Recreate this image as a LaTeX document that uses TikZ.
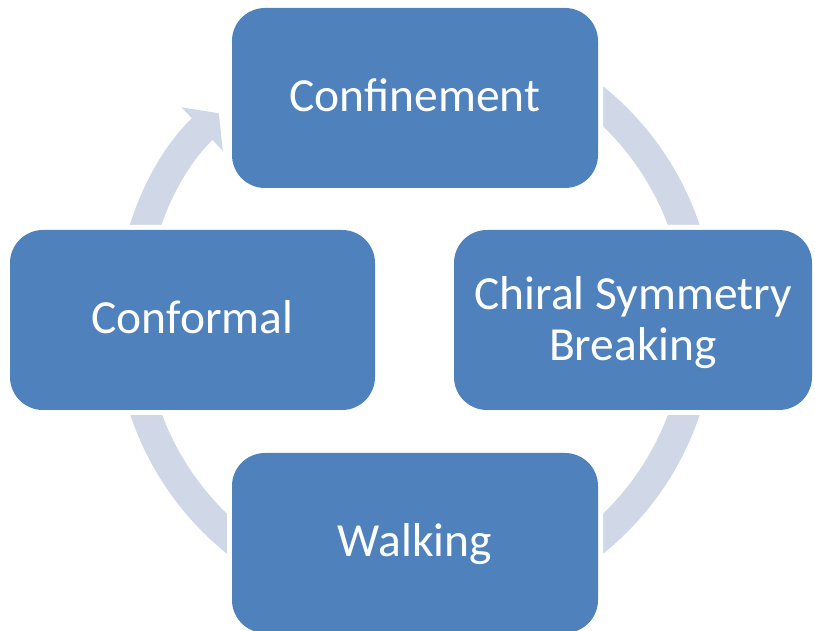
\documentclass[tikz,border=0pt]{standalone}
\usepackage{fontspec}
\setmainfont{Carlito}
\usetikzlibrary{arrows.meta}
\definecolor{boxblue}{HTML}{4F81BD}
\definecolor{ringgray}{HTML}{D0D8E8}

\begin{document}
\begin{tikzpicture}[x=1pt,y=1pt,
  stage/.style={rectangle, rounded corners=33pt, fill=boxblue, text=white,
    minimum width=366pt, minimum height=180pt, inner sep=0pt,
    preaction={draw=white, line width=10pt},
    font=\fontsize{47.5}{51}\selectfont, align=center},
  oneline/.style={text height=37pt, text depth=9pt},
  loopring/.style={draw=ringgray, line width=30pt,
    -{Triangle[width=59pt,length=23pt]}}]
\useasboundingbox (0,0) rectangle (815,631);
\coordinate (hub) at (415,311);
% ring behind the stages
\draw[loopring] (hub) ++(90:285) arc[start angle=90, end angle=-226.5, radius=285];
% stages
\node[stage, oneline] (confine) at (415,533) {Confinement};
\node[stage, minimum width=358pt, text depth=3pt] (chiral) at (633,311) {Chiral Symmetry\\Breaking};
\node[stage, oneline] (walk) at (415,88) {Walking};
\node[stage, oneline, minimum width=365pt] (conform) at (192.5,311) {Conformal};
\end{tikzpicture}
\end{document}
